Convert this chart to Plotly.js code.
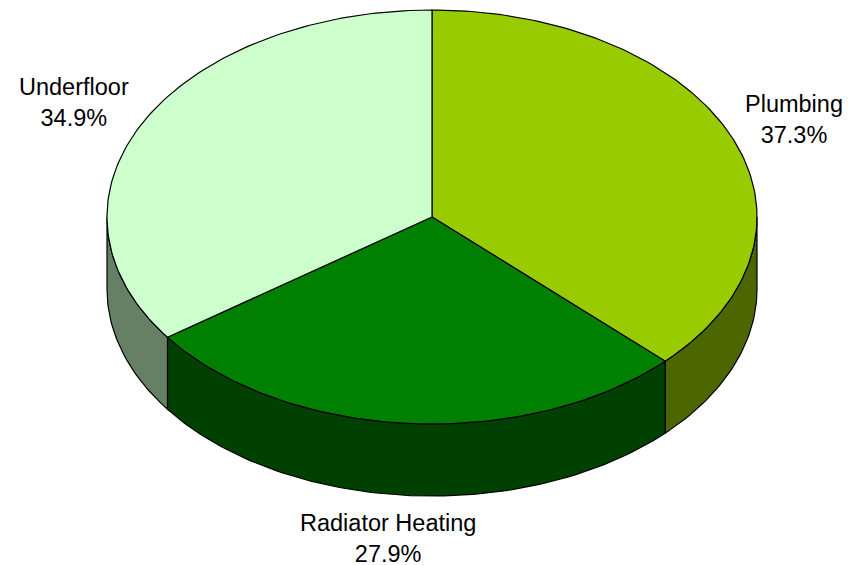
<!DOCTYPE html>
<html>
<head>
<meta charset="utf-8">
<script src="https://cdn.plot.ly/plotly-3.0.1.min.js"></script>
<style>
  html, body { margin: 0; padding: 0; background: #ffffff; }
  #chart { width: 861px; height: 565px; }
</style>
</head>
<body>
<div id="chart"></div>
<script>
// ---- data ----
const labels = ['Plumbing', 'Radiator Heating', 'Underfloor'];
const values = [37.3, 27.9, 34.9];
const topColors = ['#99CC00', '#008000', '#CCFFCC'];
const sideColors = ['#4D6600', '#004000', '#668066'];

// ---- projection of the 3D pie (pixel-space axes) ----
const W = 861, H = 565;
const cx = 432, cy = 217, rx = 325, ry = 207, depth = 72;
const labelK = 1.21;
const labelNudgeX = [0, -14, -8];   // layout tweak for label placement
const rad = d => d * Math.PI / 180;
const px = t => cx + rx * Math.cos(rad(t));
const py = t => cy - ry * Math.sin(rad(t));

const total = values.reduce((a, b) => a + b, 0);
const slices = [];
let ang = 90;
values.forEach((v, i) => {
  const sweep = v / total * 360;
  slices.push({ i, a1: ang, a2: ang - sweep });
  ang -= sweep;
});

function arc(from, to, dy) {
  const n = Math.max(2, Math.ceil(Math.abs(from - to) / 1));
  const xs = [], ys = [];
  for (let k = 0; k <= n; k++) {
    const t = from + (to - from) * k / n;
    xs.push(px(t)); ys.push(py(t) + dy);
  }
  return { xs, ys };
}

const traces = [];
// side faces (front half only)
slices.forEach(s => {
  for (let k = 0; k < 2; k++) {
    const lo = Math.max(s.a2, -180 - 360 * k);
    const hi = Math.min(s.a1, 0 - 360 * k);
    if (hi <= lo) continue;
    const top = arc(hi, lo, 0);
    const bot = arc(lo, hi, depth);
    const xs = top.xs.concat(bot.xs, [top.xs[0]]);
    const ys = top.ys.concat(bot.ys, [top.ys[0]]);
    traces.push({
      type: 'scatter', mode: 'lines', x: xs, y: ys,
      fill: 'toself', fillcolor: sideColors[s.i],
      line: { color: '#000000', width: 1.2 },
      hoverinfo: 'skip', showlegend: false
    });
  }
});
// top faces
slices.forEach(s => {
  const a = arc(s.a1, s.a2, 0);
  const xs = [cx].concat(a.xs, [cx]);
  const ys = [cy].concat(a.ys, [cy]);
  traces.push({
    type: 'scatter', mode: 'lines', x: xs, y: ys,
    fill: 'toself', fillcolor: topColors[s.i],
    line: { color: '#000000', width: 1.2 },
    hoverinfo: 'skip', showlegend: false
  });
});

// labels
const annotations = slices.map(s => {
  const mid = (s.a1 + s.a2) / 2;
  const c = Math.cos(rad(mid)), sn = Math.sin(rad(mid));
  const x = cx + rx * labelK * c + labelNudgeX[s.i];
  const y = cy - ry * labelK * sn + (sn < 0 ? depth : 0);
  const pct = (values[s.i] / total * 100).toFixed(1) + '%';
  return {
    x, y, xref: 'x', yref: 'y', showarrow: false,
    text: labels[s.i] + '<br>' + pct,
    xanchor: 'center', yanchor: 'middle', align: 'center',
    font: { family: 'Liberation Sans, Arial, sans-serif', size: 23.5, color: '#000000' }
  };
});

const layout = {
  width: W, height: H,
  margin: { l: 0, r: 0, t: 0, b: 0, pad: 0 },
  paper_bgcolor: '#ffffff', plot_bgcolor: '#ffffff',
  xaxis: { range: [0, W], visible: false, fixedrange: true },
  yaxis: { range: [H, 0], visible: false, fixedrange: true },
  annotations,
  showlegend: false
};

Plotly.newPlot('chart', traces, layout, { displayModeBar: false, staticPlot: true });
</script>
</body>
</html>
